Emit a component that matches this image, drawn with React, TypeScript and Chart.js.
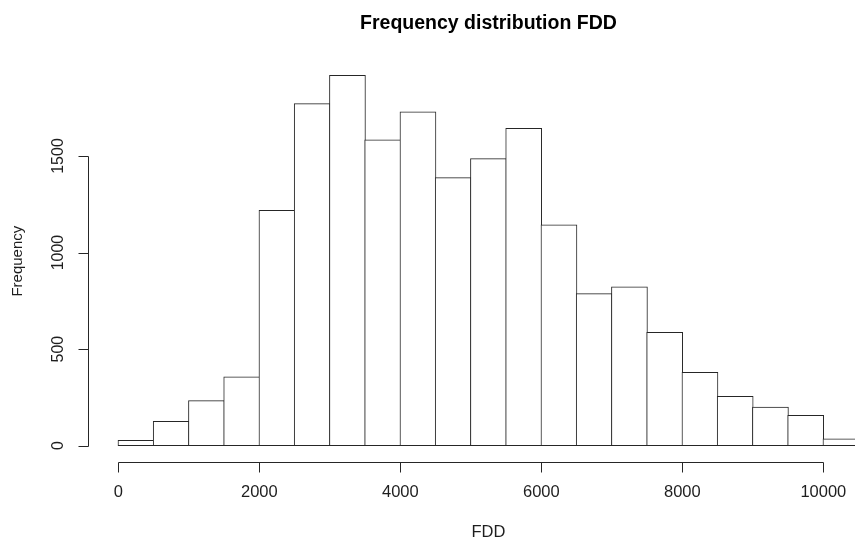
import { useEffect, useRef } from "react";
import { Chart, registerables } from "chart.js";

Chart.register(...registerables);

// Histogram bins (left edges) and their counts
const binStarts = [0, 500, 1000, 1500, 2000, 2500, 3000, 3500, 4000, 4500, 5000, 5500, 6000, 6500, 7000, 7500, 8000, 8500, 9000, 9500, 10000];
const binWidth = 500;
const counts = [28, 126, 233, 357, 1219, 1771, 1918, 1584, 1729, 1388, 1486, 1643, 1144, 787, 823, 587, 380, 256, 200, 157, 36];

const xTicks = [0, 2000, 4000, 6000, 8000, 10000];
const yTicks = [0, 500, 1000, 1500];

const titleText = "Frequency distribution FDD";
const xLabel = "FDD";
const yLabel = "Frequency";

const FONT = '"Liberation Sans", Arial, Helvetica, sans-serif';
const LINE = "#262626";
const TEXT = "#1e1e1e";

const rAxesPlugin = {
  id: "rAxes",
  afterDraw(chart: any) {
    const ctx: CanvasRenderingContext2D = chart.ctx;
    const { left, right, top, bottom } = chart.chartArea;
    const xs = chart.scales.x;
    const ys = chart.scales.y;
    const tick = 10;
    ctx.save();
    ctx.strokeStyle = LINE;
    ctx.lineWidth = 1;

    // x axis
    const ay = Math.round(bottom) + 0.5;
    ctx.beginPath();
    const xa = Math.round(xs.getPixelForValue(xTicks[0])) + 0.5;
    const xb = Math.round(xs.getPixelForValue(xTicks[xTicks.length - 1])) + 0.5;
    ctx.moveTo(xa, ay);
    ctx.lineTo(xb, ay);
    for (const t of xTicks) {
      const px = Math.round(xs.getPixelForValue(t)) + 0.5;
      ctx.moveTo(px, ay);
      ctx.lineTo(px, ay + tick);
    }
    ctx.stroke();

    // y axis
    const ax = Math.round(left) + 0.5;
    ctx.beginPath();
    const ya = Math.round(ys.getPixelForValue(yTicks[0])) + 0.5;
    const yb = Math.round(ys.getPixelForValue(yTicks[yTicks.length - 1])) + 0.5;
    ctx.moveTo(ax, ya);
    ctx.lineTo(ax, yb);
    for (const t of yTicks) {
      const py = Math.round(ys.getPixelForValue(t)) + 0.5;
      ctx.moveTo(ax, py);
      ctx.lineTo(ax - tick, py);
    }
    ctx.stroke();

    // x tick labels
    ctx.fillStyle = TEXT;
    ctx.font = `16.5px ${FONT}`;
    ctx.textAlign = "center";
    ctx.textBaseline = "middle";
    for (const t of xTicks) {
      ctx.fillText(String(t), xs.getPixelForValue(t), bottom + 30.5);
    }

    // y tick labels (rotated, reading upward)
    ctx.font = `16px ${FONT}`;
    for (const t of yTicks) {
      ctx.save();
      ctx.translate(left - 30, ys.getPixelForValue(t));
      ctx.rotate(-Math.PI / 2);
      ctx.fillText(String(t), 0, 0);
      ctx.restore();
    }

    // axis titles
    const cx = (left + right) / 2;
    const cy = (top + bottom) / 2;
    ctx.font = `16.5px ${FONT}`;
    ctx.fillText(xLabel, cx, bottom + 70.5);
    ctx.save();
    ctx.font = `15px ${FONT}`;
    ctx.translate(18, cy);
    ctx.rotate(-Math.PI / 2);
    ctx.fillText(yLabel, 0, 0);
    ctx.restore();

    // main title
    ctx.fillStyle = "#000000";
    ctx.font = `bold 19.5px ${FONT}`;
    ctx.fillText(titleText, cx, 23.5);

    ctx.restore();
  },
};

export default function App() {
  const canvasRef = useRef<HTMLCanvasElement | null>(null);

  useEffect(() => {
    const canvas = canvasRef.current;
    if (!canvas) return;
    const chart = new Chart(canvas, {
      type: "bar",
      data: {
        datasets: [
          {
            label: yLabel,
            data: binStarts.map((s, i) => ({ x: s + binWidth / 2, y: counts[i] })),
            backgroundColor: "#ffffff",
            borderColor: LINE,
            borderWidth: 1,
            borderSkipped: false,
            barThickness: 36,
            barPercentage: 1,
            categoryPercentage: 1,
          } as any,
        ],
      },
      plugins: [rAxesPlugin],
      options: {
        animation: false,
        responsive: false,
        devicePixelRatio: 1,
        layout: {
          padding: { left: 88.3, right: 11.4, top: 60.6, bottom: 85.3 },
        },
        plugins: {
          legend: { display: false },
          title: { display: false },
          tooltip: { enabled: false },
        },
        scales: {
          x: {
            type: "linear",
            min: -426,
            max: 10926,
            offset: false,
            display: false,
          },
          y: {
            type: "linear",
            min: -83,
            max: 1994,
            display: false,
          },
        },
      },
    });
    return () => chart.destroy();
  }, []);

  return (
    <div
      style={{
        position: "absolute",
        left: 0,
        top: 0,
        width: 855,
        height: 547,
        overflow: "hidden",
        background: "#ffffff",
      }}
    >
      <canvas ref={canvasRef} width={900} height={547} style={{ display: "block" }} />
    </div>
  );
}
